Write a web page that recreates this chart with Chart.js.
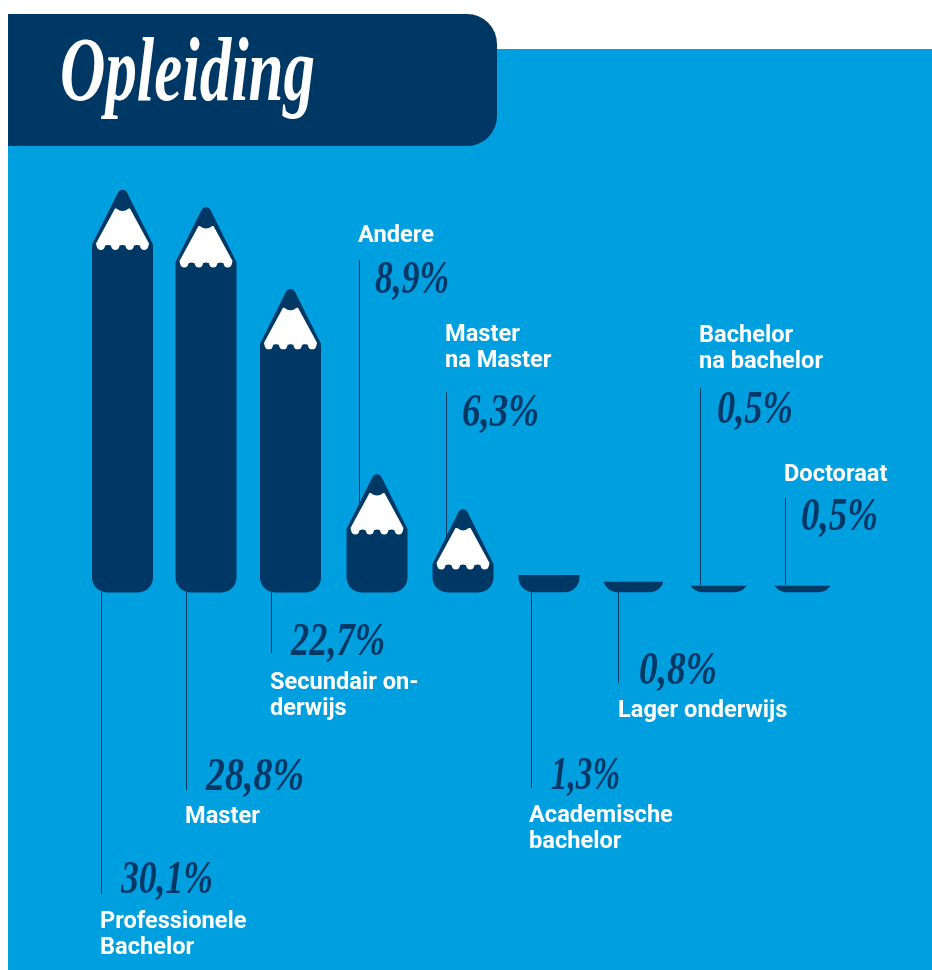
<!DOCTYPE html>
<html><head><meta charset="utf-8">
<style>html,body{margin:0;padding:0;background:#fff}canvas{display:block}</style>
<script src="https://cdn.jsdelivr.net/npm/chart.js@4"></script>
</head><body><canvas id="c" width="932" height="970"></canvas>
<script>
const title = "Opleiding";
const categories = ["Professionele Bachelor","Master","Secundair onderwijs","Andere","Master na Master","Academische bachelor","Lager onderwijs","Bachelor na bachelor","Doctoraat"];
const values = [30.1,28.8,22.7,8.9,6.3,1.3,0.8,0.5,0.5];
const valueLabels = ["30,1%","28,8%","22,7%","8,9%","6,3%","1,3%","0,8%","0,5%","0,5%"];
const nameLines = [["Professionele","Bachelor"],["Master"],["Secundair on-","derwijs"],["Andere"],["Master","na Master"],["Academische","bachelor"],["Lager onderwijs"],["Bachelor","na bachelor"],["Doctoraat"]];

const NAVY="#003865", BLUE="#009fe0";
const barNudge=[0,-1.5,-2,-0.5,0.5,1.5,1,1,0];
const leaders=[[101,592,894],[186,592,790],[271,592,653],[359,260,527],[446,392,560],[531,592,788],[618,592,683],[700,388,585],[785,498,585]];
const valuePos=[[121,893],[206,790],[291,655],[375,293],[462,426],[551,789],[639,684],[717,423],[801,530]];
const valueWidth=[92,98,94,74,77,69,78,76,77];
const namePos=[[100,928],[185,823],[270,689],[358,242],[445,341],[529,822],[618,717],[699,342],[784,481]];
const lineH=26;

function pencilPath(ctx,cx,top,base,w,r){
  const hw=w/2, shoulder=top+56;
  ctx.beginPath();
  ctx.moveTo(cx-hw,shoulder);
  ctx.arcTo(cx,top-5,cx+hw,shoulder,5);
  ctx.lineTo(cx+hw,shoulder);
  ctx.lineTo(cx+hw,base-r);
  ctx.arcTo(cx+hw,base,cx+hw-r,base,r);
  ctx.lineTo(cx-hw+r,base);
  ctx.arcTo(cx-hw,base,cx-hw,base-r,r);
  ctx.closePath();
}
function drawPencil(ctx,bar,nudge){
  const cx=bar.x+nudge, top=bar.y, base=bar.base, w=bar.width;
  ctx.save();
  ctx.fillStyle=NAVY;
  if(base-top<56+15){
    ctx.beginPath();ctx.rect(cx-w,top,w*2,base-top);ctx.clip();
    ctx.beginPath();ctx.roundRect(cx-w/2,base-40,w,40,[0,0,15,15]);ctx.fill();
    ctx.restore();
    return;
  }
  pencilPath(ctx,cx,top,base,w,15);
  ctx.fill();
  ctx.fillStyle="#fff";
  ctx.beginPath();
  ctx.moveTo(cx-7.5,top+20);
  ctx.lineTo(cx+7.5,top+20);
  ctx.lineTo(cx+26.5,top+55);
  ctx.lineTo(cx+26,top+57);
  ctx.lineTo(cx-26,top+57);
  ctx.lineTo(cx-26.5,top+55);
  ctx.closePath();ctx.fill();
  [-21.7,-7.2,7.2,21.7].forEach(dx=>{
    ctx.beginPath();ctx.arc(cx+dx,top+57.3,4.2,0,Math.PI*2);ctx.fill();
  });
  ctx.fillStyle=NAVY;
  [-14.5,0,14.5].forEach(dx=>{
    ctx.beginPath();ctx.arc(cx+dx,top+59.5,3,Math.PI,0);ctx.fill();
  });
  ctx.beginPath();ctx.arc(cx,top+14.5,8,0,Math.PI*2);ctx.fill();
  ctx.restore();
}
const pencilPlugin={
  id:"pencil",
  beforeDraw(chart){
    const ctx=chart.ctx;
    ctx.save();
    ctx.fillStyle="#fff";ctx.fillRect(0,0,932,970);
    ctx.fillStyle=BLUE;ctx.fillRect(8,49,924,921);
    ctx.fillStyle=NAVY;
    ctx.beginPath();ctx.roundRect(8,14,489,132,[0,30,30,0]);ctx.fill();
    ctx.fillStyle="#fff";
    ctx.font='italic bold 90px "Liberation Serif"';
    ctx.textBaseline="alphabetic";
    const tw=ctx.measureText(title).width;
    ctx.translate(60,100);ctx.scale(255/tw,1);
    ctx.fillText(title,0,0);
    ctx.restore();
  },
  beforeDatasetsDraw(chart){
    const ctx=chart.ctx;
    ctx.save();
    ctx.strokeStyle=NAVY;ctx.lineWidth=1;
    leaders.forEach(l=>{ctx.beginPath();ctx.moveTo(l[0]+0.5,l[1]);ctx.lineTo(l[0]+0.5,l[2]);ctx.stroke();});
    ctx.restore();
  },
  beforeDatasetDraw(chart,args){
    const ctx=chart.ctx;
    chart.getDatasetMeta(args.index).data.forEach((b,i)=>drawPencil(ctx,b,barNudge[i]));
    return false;
  },
  afterDatasetsDraw(chart){
    const ctx=chart.ctx;
    ctx.save();
    ctx.textBaseline="alphabetic";
    ctx.fillStyle="#fff";
    ctx.font='bold 23.6px Roboto';
    nameLines.forEach((lines,i)=>lines.forEach((t,j)=>ctx.fillText(t,namePos[i][0],namePos[i][1]+j*lineH)));
    ctx.fillStyle=NAVY;
    ctx.font='italic bold 47px "Liberation Serif"';
    valueLabels.forEach((t,i)=>{
      const s=valueWidth[i]/ctx.measureText(t).width;
      ctx.save();ctx.translate(valuePos[i][0],valuePos[i][1]);ctx.scale(s,1);
      ctx.fillText(t,0,0);ctx.restore();
    });
    ctx.restore();
  }
};
new Chart(document.getElementById("c"),{
  type:"bar",
  data:{labels:categories,datasets:[{label:title,data:values,backgroundColor:NAVY,barPercentage:61/85,categoryPercentage:1}]},
  options:{
    responsive:false,animation:false,
    layout:{padding:{left:80,right:87,top:163.06,bottom:377.5}},
    plugins:{legend:{display:false},tooltip:{enabled:false},title:{display:false}},
    scales:{
      x:{display:false,grid:{display:false}},
      y:{display:false,min:0,max:32,grid:{display:false}}
    }
  },
  plugins:[pencilPlugin]
});
</script></body></html>
